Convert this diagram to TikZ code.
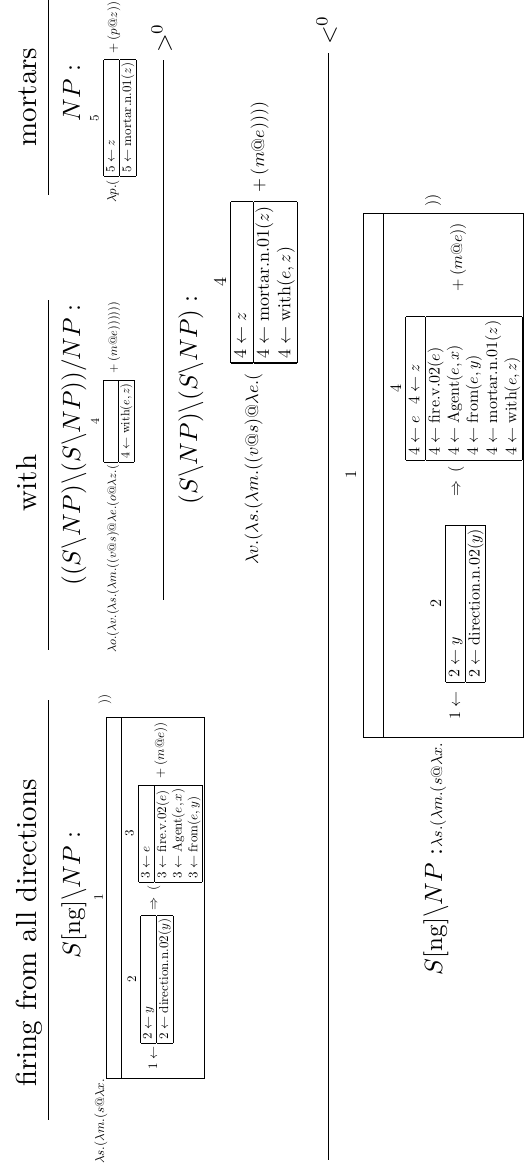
\documentclass[tikz,border=0pt]{standalone}
\usetikzlibrary{calc}
\newcommand{\drsbox}[2]{{\setlength{\tabcolsep}{0.25em}\setlength{\arrayrulewidth}{0.6pt}\begin{tabular}{|l|}\hline #1\\\hline #2\\\hline\end{tabular}}}
\newcommand{\fWord}[1]{\scalebox{2.9}{#1}}
\newcommand{\fCat}[1]{\scalebox{2.5}{#1}}
\newcommand{\fA}[1]{\scalebox{1.3}{#1}}
\newcommand{\fW}[1]{\scalebox{1.22}{#1}}
\newcommand{\fR}[1]{\scalebox{1.8}{#1}}
\newcommand{\fF}[1]{\scalebox{1.6}{#1}}
\newcommand{\fG}[1]{\scalebox{2.4}{#1}}
\tikzset{
  lbl/.style={rotate=90, inner sep=0pt, outer sep=0pt},
  wordtxt/.style={lbl, anchor=base},
  cattxt/.style={lbl, anchor=base},
  drsnode/.style={lbl, anchor=north west},
  idx/.style={lbl, anchor=south},
  derivline/.style={line width=1pt, black},
  frame/.style={line width=0.8pt, black},
}
\begin{document}
\begin{tikzpicture}[x={(0pt,1pt)}, y={(1pt,0pt)}]
\useasboundingbox (0,0) rectangle (1163,524);

% words
\node[wordtxt] (w1) at (230,37) {\fWord{firing from all directions}};
\node[wordtxt] (w2) at (680,37) {\fWord{with}};
\node[wordtxt] (w3) at (1066,37) {\fWord{mortars}};
\draw[derivline] (43,48) -- (463,48);
\draw[derivline] (513,48) -- (863,48);
\draw[derivline] (968,48) -- (1163,48);

% categories
\node[cattxt] (c1) at (268,80) {\fCat{$S[\mathrm{ng}]\backslash NP:$}};
\node[cattxt] (c2) at (718,80) {\fCat{$((S\backslash NP)\backslash(S\backslash NP))/NP:$}};
\node[cattxt] (c3) at (1070,80) {\fCat{$NP:$}};

% firing semantics
\draw[frame] (85,106) rectangle (446,204);
\draw[frame] (85,121) -- (446,121);
\node[idx] (i1) at (265.5,103) {\fA{1}};
\node[lbl, anchor=base east] (l1) at (84,104) {\fA{$\lambda s.(\lambda m.(s@\lambda x.$}};
\node[lbl, anchor=base west] (a1) at (93,157) {\fA{$1\leftarrow$}};
\node[drsnode] (b2) at (120,140) {\fA{\drsbox{$2\leftarrow y$}{$2\leftarrow \mathrm{direction.n.02}(y)$}}};
\node[idx] (i2) at ($(b2.north)+(0,-4)$) {\fA{2}};
\node[lbl, anchor=base west] (r1) at (252,157) {\fA{$\Rightarrow\;($}};
\node[drsnode] (b3) at (281,138) {\fA{\drsbox{$3\leftarrow e$}{$3\leftarrow \mathrm{fire.v.02}(e)$\\$3\leftarrow \mathrm{Agent}(e,x)$\\$3\leftarrow \mathrm{from}(e,y)$}}};
\node[idx] (i3) at ($(b3.north)+(0,-4)$) {\fA{3}};
\node[lbl, anchor=base west] (p1) at (382,164) {\fA{${}+(m@e))$}};
\node[lbl, anchor=base west] (q1) at (458,108) {\fA{$))$}};

% with semantics
\node[lbl, anchor=base west] (l2) at (510,116) {\fW{$\lambda o.(\lambda v.(\lambda s.(\lambda m.((v@s)@\lambda e.(o@\lambda z.($}};
\node[drsnode] (b4) at (701,103) {\fW{\drsbox{}{$4\leftarrow \mathrm{with}(e,z)$}}};
\node[idx] (i4) at ($(b4.north)+(0,-4)$) {\fW{4}};
\node[lbl, anchor=base west] (p2) at (787,117) {\fW{${}+(m@e))))))$}};

% mortars semantics
\node[lbl, anchor=base west] (l3) at (960,116) {\fA{$\lambda p.($}};
\node[drsnode] (b5) at (987,103) {\fA{\drsbox{$5\leftarrow z$}{$5\leftarrow \mathrm{mortar.n.01}(z)$}}};
\node[idx] (i5) at ($(b5.north)+(0,-4)$) {\fA{5}};
\node[lbl, anchor=base west] (p3) at (1107,117) {\fA{${}+(p@z))$}};

% rule >0
\draw[derivline] (563,163) -- (1103,163);
\node[lbl, anchor=base west] (g1) at (1110,171) {\fG{$>^{0}$}};

% result of with mortars
\node[cattxt] (c4) at (763,197) {\fCat{$(S\backslash NP)\backslash(S\backslash NP):$}};
\node[lbl, anchor=base west] (l4) at (598,258) {\fR{$\lambda v.(\lambda s.(\lambda m.((v@s)@\lambda e.($}};
\node[drsnode] (b6) at (800,230) {\fR{\drsbox{$4\leftarrow z$}{$4\leftarrow \mathrm{mortar.n.01}(z)$\\$4\leftarrow \mathrm{with}(e,z)$}}};
\node[idx] (i6) at ($(b6.north)+(0,-4)$) {\fR{4}};
\node[lbl, anchor=base west] (p4) at (966,264) {\fR{${}+(m@e))))$}};

% rule <0
\draw[derivline] (3,328) -- (1110,328);
\node[lbl, anchor=base west] (g2) at (1118,336) {\fG{$<^{0}$}};

% final
\node[idx] (i7) at (688,356) {\fF{1}};
\draw[frame] (426,363) rectangle (950,523);
\draw[frame] (426,383) -- (950,383);
\node[lbl, anchor=base east] (c5) at (314,442) {\fCat{$S[\mathrm{ng}]\backslash NP:$}};
\node[lbl, anchor=base east] (l5) at (420,442) {\fF{$\lambda s.(\lambda m.(s@\lambda x.$}};
\node[lbl, anchor=base west] (a2) at (443,460) {\fF{$1\leftarrow$}};
\node[drsnode] (b7) at (481,445) {\fF{\drsbox{$2\leftarrow y$}{$2\leftarrow \mathrm{direction.n.02}(y)$}}};
\node[idx] (i8) at ($(b7.north)+(0,-4)$) {\fF{2}};
\node[lbl, anchor=base west] (r2) at (666,460) {\fF{$\Rightarrow\;($}};
\node[drsnode] (b8) at (703,405) {\fF{\drsbox{$4\leftarrow e$\ \ $4\leftarrow z$}{$4\leftarrow \mathrm{fire.v.02}(e)$\\$4\leftarrow \mathrm{Agent}(e,x)$\\$4\leftarrow \mathrm{from}(e,y)$\\$4\leftarrow \mathrm{mortar.n.01}(z)$\\$4\leftarrow \mathrm{with}(e,z)$}}};
\node[idx] (i9) at ($(b8.north)+(0,-4)$) {\fF{4}};
\node[lbl, anchor=base west] (p5) at (868,462) {\fF{${}+(m@e))$}};
\node[lbl, anchor=base west] (q2) at (956,437) {\fF{$))$}};
\end{tikzpicture}
\end{document}
